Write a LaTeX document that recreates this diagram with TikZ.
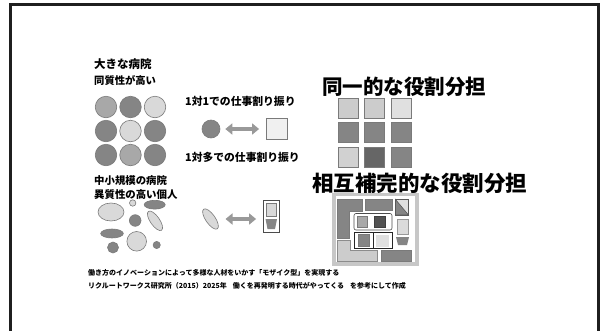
\documentclass[tikz,border=0pt]{standalone}
\usepackage{fontspec}
\newfontfamily\jp{Noto Sans CJK JP}[BoldFont={Noto Sans CJK JP Black}]
\newfontfamily\jpt{Noto Sans CJK JP}
\usetikzlibrary{arrows.meta,shapes.geometric}
\definecolor{dg}{HTML}{858585}
\definecolor{mg}{HTML}{A8A8A8}
\definecolor{lg}{HTML}{D9D9D9}
\definecolor{edge}{HTML}{7A7A7A}
\definecolor{arr}{HTML}{999999}
\tikzset{
  lbl/.style={anchor=west,inner sep=0pt,font=\jp\bfseries\fontsize{#1}{#1}\selectfont},
  ttl/.style={anchor=west,inner sep=0pt,font=\jpt\bfseries\fontsize{#1}{#1}\selectfont},
  dot/.style={circle,draw=edge,line width=0.6pt,fill=#1,inner sep=0pt},
  sq/.style={draw=edge,line width=1pt,fill=#1},
  dbl/.style={line width=4pt,draw=arr,{Triangle[length=7pt,width=11pt]}-{Triangle[length=7pt,width=11pt]}},
}
\begin{document}
\begin{tikzpicture}[x=1pt,y=-1pt]
\useasboundingbox (0,0) rectangle (600,330);
% frame
\draw[line width=3pt,color=black!88] (10.5,331) -- (10.5,4.5) -- (598.5,4.5) -- (598.5,331);

% left top
\node[lbl=11.5] (t1) at (94,64) {大きな病院};
\node[lbl=10.3] (t2) at (94,80) {同質性が高い};
\foreach \c/\x/\y [count=\i] in {mg/106/107, dg/130.5/107, lg/155/107, dg/106/131, lg/130.5/131, dg/155/131, dg/106/155, mg/130.5/155, dg/155/155}
  \node[dot=\c,minimum size=21.5pt] (p\i) at (\x,\y) {};

\node[lbl=10.8] (t3) at (185,101) {1対1での仕事割り振り};
\node[dot=dg,minimum size=18pt] (c1) at (211,129) {};
\node[draw=edge,line width=0.8pt,fill=black!6,minimum size=21pt,inner sep=0pt] (s1) at (277,129) {};
\draw[dbl,shorten <=5pt,shorten >=7pt] (c1.east) -- (s1.west);
\node[lbl=10.8] (t4) at (185,157) {1対多での仕事割り振り};

% left bottom
\node[lbl=10.4] (t5) at (94,180.5) {中小規模の病院};
\node[lbl=10.4] (t6) at (94,194.5) {異質性の高い個人};
\begin{scope}[yshift=-3pt]
\draw[edge,line width=0.6pt,fill=lg] (111,209) ellipse [x radius=13,y radius=9];
\draw[edge,line width=0.6pt,fill=lg] (132.7,200) circle [radius=3.2];
\draw[edge,line width=0.6pt,fill=dg] (154.7,201.7) ellipse [x radius=10.5,y radius=4.4];
\draw[edge,line width=0.6pt,fill=dg] (135.2,217.5) circle [radius=5.8];
\draw[edge,line width=0.6pt,fill=lg,rotate around={-55:(155,217.8)}] (155,217.8) ellipse [x radius=11.5,y radius=4.6];
\draw[edge,line width=0.6pt,fill=dg] (112,230.5) ellipse [x radius=11.3,y radius=4.5];
\draw[edge,line width=0.6pt,fill=lg] (136.7,238.3) circle [radius=9.8];
\draw[edge,line width=0.6pt,fill=dg] (113,244.5) circle [radius=5.5];
\draw[edge,line width=0.6pt,fill=dg] (156.7,242) circle [radius=3.6];
\end{scope}

\node[ellipse,draw=edge,line width=0.6pt,fill=lg,minimum width=24pt,minimum height=9.5pt,inner sep=0pt,rotate=-55] (e1) at (210.5,219) {};
\node[draw=black!70,line width=0.7pt,fill=white,minimum width=15.5pt,minimum height=31.5pt,inner sep=0pt] (g1) at (271.2,216.2) {};
\filldraw[fill=lg,draw=edge,line width=0.6pt] (266,203) rectangle (276.5,216);
\fill[dg] (265.5,219) -- (277,219) -- (275,229) -- (267.5,229) -- cycle;
\draw[dbl,shorten <=15pt,shorten >=7pt] (e1.center) -- (e1.center -| g1.west);

% right top
\node[ttl=20.5] (t7) at (322,87) {同一的な役割分担};
\foreach \c/\x/\y [count=\i] in {black!20/348/108, black!20/374/108, black!12/401/108,
  dg/348/132, dg/374/132, dg/401/132, black!18/348/157, black!60/374/157, dg/401/157}
  \filldraw[sq=\c] (\x-10,\y-10) rectangle (\x+10,\y+10);

% right bottom
\node[ttl=21.5] (t8) at (312,183.5) {相互補完的な役割分担};
\draw[draw=black!22,line width=3.5pt,fill=white] (334,194.5) rectangle (417,264);
\filldraw[fill=dg,draw=edge,line width=0.5pt] (337.5,199.5) -- (362,199.5) -- (362,211.5) -- (349.5,211.5) -- (349.5,238) -- (337.5,238) -- cycle;
\filldraw[fill=dg,draw=edge,line width=0.5pt] (365,199.5) rectangle (392.5,210.5);
\filldraw[fill=black!12,draw=black!65,line width=0.6pt] (395.5,199.5) rectangle (408.5,215);
\filldraw[fill=dg,draw=black!65,line width=0.6pt] (395.5,199.5) -- (408.5,215) -- (395.5,215) -- cycle;
\draw[black!70,line width=0.6pt,rounded corners=2pt] (354,213.5) rectangle (392,230);
\filldraw[fill=mg,draw=edge,line width=0.5pt] (357.5,216) rectangle (367.5,227);
\filldraw[fill=black!68,draw=black!75,line width=0.5pt] (374,216) rectangle (385,227);
\draw[black!85,line width=0.6pt] (354,232.5) rectangle (392.5,248.5);
\filldraw[fill=dg,draw=edge,line width=0.5pt] (358,234.5) rectangle (369,246.5);
\draw[black!85,line width=0.6pt] (373,232.5) -- (373,248.5);
\fill[black!12] (376,234.5) rectangle (389,246.5);
\filldraw[fill=black!14,draw=black!40,line width=0.5pt] (397,219.5) rectangle (408,234);
\fill[dg] (396,237) -- (409,237) -- (407,245) -- (398,245) -- cycle;
\filldraw[fill=black!20,draw=black!45,line width=0.5pt] (337.5,240) -- (350.5,240) -- (350.5,250.5) -- (377,250.5) -- (377,261) -- (337.5,261) -- cycle;
\filldraw[fill=dg,draw=edge,line width=0.5pt] (381,250.5) rectangle (411,261);

% footer
\node[lbl=7] (f1) at (88,273) {働き方のイノベーションによって多様な人材をいかす「モザイク型」を実現する};
\node[lbl=7] (f2) at (88,285.5) {リクルートワークス研究所（2015）2025年\hspace{6pt}働くを再発明する時代がやってくる\hspace{6pt}を参考にして作成};
\end{tikzpicture}
\end{document}
